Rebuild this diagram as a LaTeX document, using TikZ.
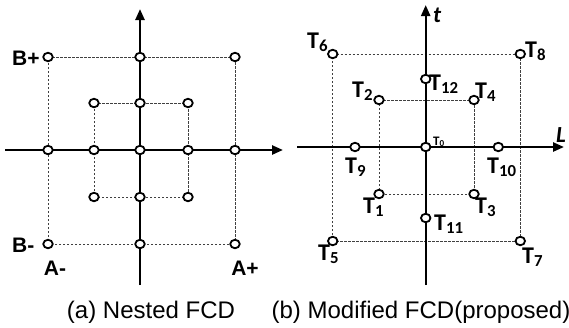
\documentclass[tikz,border=0pt]{standalone}
\usepackage{fontspec}
\setmainfont{Liberation Sans}
\newfontfamily\calfont{Carlito}
\usetikzlibrary{arrows.meta,shapes.geometric,backgrounds}
\begin{document}
\begin{tikzpicture}[x=1pt,y=-1pt,
  pt/.style={ellipse,draw,fill=white,line width=1.8pt,minimum width=9.5pt,minimum height=8.5pt,inner sep=0pt},
  axisline/.style={line width=2.4pt,-{Triangle[length=11pt,width=9pt]}},
  dline/.style={line width=0.7pt,black!75,dash pattern=on 2.5pt off 1.5pt},
  lblA/.style={font=\fontsize{21}{21}\selectfont\bfseries,inner sep=0pt},
  lblT/.style={font=\calfont\bfseries\fontsize{24}{24}\selectfont,inner sep=0pt,anchor=base west},
  lblS/.style={font=\calfont\bfseries\fontsize{13}{13}\selectfont,inner sep=0pt,anchor=base west},
  axlbl/.style={font=\calfont\bfseries\itshape\fontsize{23}{23}\selectfont,inner sep=0pt,anchor=base west},
  caplbl/.style={font=\fontsize{24}{24}\selectfont,inner sep=0pt}]
\useasboundingbox (0,0) rectangle (569,327);
% ---------- (a) Nested FCD ----------
\coordinate (ax1) at (5,150); \coordinate (ax2) at (283,150);
\coordinate (ay1) at (140,285); \coordinate (ay2) at (140,9);
\node[pt] (oTL) at (48,57) {};  \node[pt] (oTM) at (140,57) {};  \node[pt] (oTR) at (235,57) {};
\node[pt] (oML) at (48,150) {}; \node[pt] (oMR) at (235,150) {};
\node[pt] (oBL) at (48,244) {}; \node[pt] (oBM) at (140,244) {}; \node[pt] (oBR) at (235,244) {};
\node[pt] (iTL) at (94,103) {};  \node[pt] (iTM) at (140,103) {};  \node[pt] (iTR) at (188,103) {};
\node[pt] (iML) at (94,150) {};  \node[pt] (iC) at (140,150) {};   \node[pt] (iMR) at (188,150) {};
\node[pt] (iBL) at (94,197) {};  \node[pt] (iBM) at (140,197) {};  \node[pt] (iBR) at (188,197) {};
\node[lblA,anchor=west] (lBp) at (12,58) {B+};
\node[lblA,anchor=west] (lBm) at (12,245) {B-};
\node[lblA] (lAm) at (55,268) {A-};
\node[lblA] (lAp) at (245,268) {A+};
% ---------- (b) Modified FCD ----------
\coordinate (bx1) at (297,147); \coordinate (bx2) at (564,147);
\coordinate (by1) at (425.7,285); \coordinate (by2) at (425.7,5);
\node[pt] (T0) at (425.7,147) {};
\node[pt] (T1) at (379,194) {};
\node[pt] (T2) at (379,100) {};
\node[pt] (T3) at (474,194) {};
\node[pt] (T4) at (474,100) {};
\node[pt] (T5) at (332.7,241) {};
\node[pt] (T6) at (332.7,54) {};
\node[pt] (T7) at (520.3,241) {};
\node[pt] (T8) at (520.3,54) {};
\node[pt] (T9) at (355,147) {};
\node[pt] (T10) at (498.3,147) {};
\node[pt] (T11) at (425.7,218) {};
\node[pt] (T12) at (425.7,79) {};
\node[lblS] (lT0) at (433,145) {T\textsubscript{0}};
\node[lblT] (lT1) at (363,213) {T\textsubscript{1}};
\node[lblT] (lT2) at (352,97) {T\textsubscript{2}};
\node[lblT] (lT3) at (475,213) {T\textsubscript{3}};
\node[lblT] (lT4) at (475,98) {T\textsubscript{4}};
\node[lblT] (lT5) at (318,260) {T\textsubscript{5}};
\node[lblT] (lT6) at (307,48) {T\textsubscript{6}};
\node[lblT] (lT7) at (522,263) {T\textsubscript{7}};
\node[lblT] (lT8) at (525,57) {T\textsubscript{8}};
\node[lblT] (lT9) at (345,173) {T\textsubscript{9}};
\node[lblT] (lT10) at (487,173) {T\textsubscript{10}};
\node[lblT] (lT11) at (434,230) {T\textsubscript{11}};
\node[lblT] (lT12) at (429,90) {T\textsubscript{12}};
\node[axlbl] (lt) at (433,22) {t};
\node[axlbl] (lL) at (556,142) {L};
% ---------- captions ----------
\node[caplbl] (capa) at (151,312) {(a) Nested FCD};
\node[caplbl] (capb) at (421,312) {(b) Modified FCD(proposed)};
% ---------- lines behind the points ----------
\begin{pgfonlayer}{background}
\draw[dline] (oTL.center) -- (oTR.center) -- (oBR.center) -- (oBL.center) -- cycle;
\draw[dline] (iTL.center) -- (iTR.center) -- (iBR.center) -- (iBL.center) -- cycle;
\draw[axisline] (ax1) -- (ax2);
\draw[axisline] (ay1) -- (ay2);
\draw[dline] (T6.center) -- (T8.center) -- (T7.center) -- (T5.center) -- cycle;
\draw[dline] (T2.center) -- (T4.center) -- (T3.center) -- (T1.center) -- cycle;
\draw[axisline] (bx1) -- (bx2);
\draw[axisline] (by1) -- (by2);
\end{pgfonlayer}
\end{tikzpicture}
\end{document}
